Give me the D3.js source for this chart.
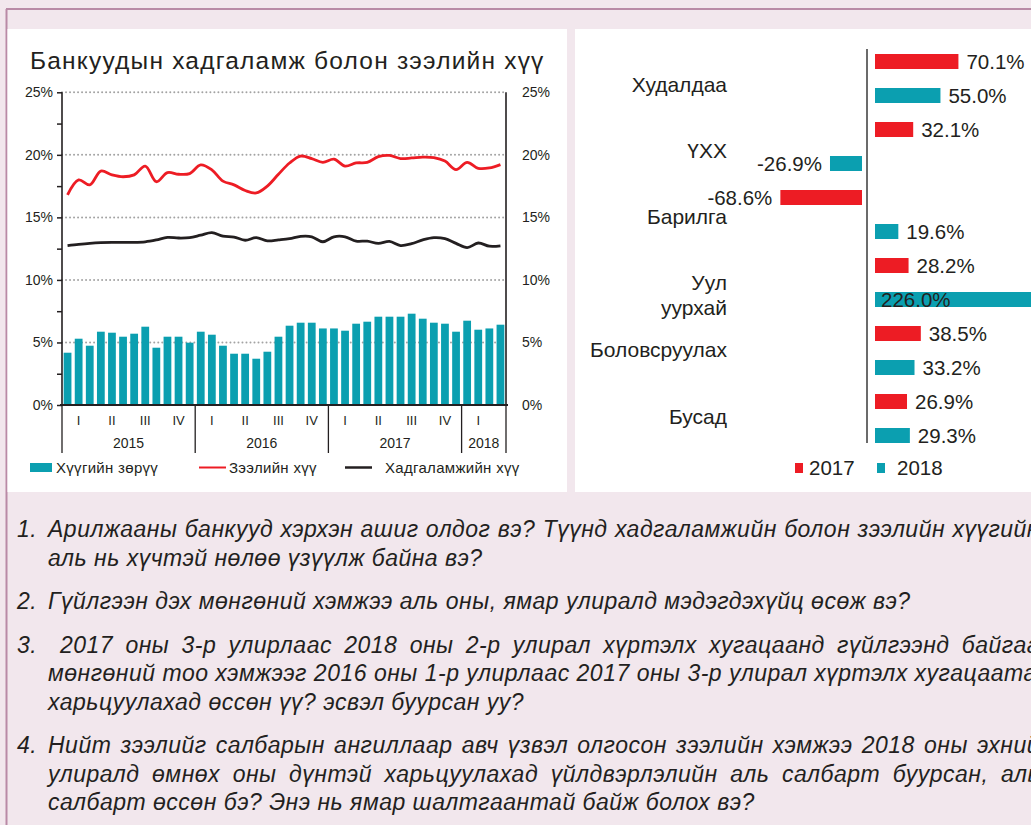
<!DOCTYPE html>
<html>
<head>
<meta charset="utf-8">
<script src="https://cdn.jsdelivr.net/npm/d3@7"></script>
<style>
  body { margin: 0; background: #f2e7ed; }
  svg { display: block; }
  text { font-family: "Liberation Sans", Arial, sans-serif; fill: #231f20; }
</style>
</head>
<body>
<svg id="chart" width="1031" height="825"></svg>
<script>
// ---- Monthly series, Jan 2015 – Apr 2018 ----
const months = [
  "2015-01","2015-02","2015-03","2015-04","2015-05","2015-06","2015-07","2015-08","2015-09","2015-10","2015-11","2015-12",
  "2016-01","2016-02","2016-03","2016-04","2016-05","2016-06","2016-07","2016-08","2016-09","2016-10","2016-11","2016-12",
  "2017-01","2017-02","2017-03","2017-04","2017-05","2017-06","2017-07","2017-08","2017-09","2017-10","2017-11","2017-12",
  "2018-01","2018-02","2018-03","2018-04"
];
// Хүүгийн зөрүү (interest spread), %
const spread = [
  4.18, 5.30, 4.74, 5.86, 5.78, 5.46, 5.70, 6.26, 4.58, 5.46, 5.46, 4.98,
  5.86, 5.62, 4.74, 4.10, 4.10, 3.70, 4.26, 5.46, 6.34, 6.58, 6.58, 6.12,
  6.12, 5.94, 6.50, 6.66, 7.06, 7.06, 7.06, 7.30, 6.90, 6.58, 6.50, 5.86,
  6.74, 6.02, 6.12, 6.42
];
// Зээлийн хүү (lending rate), %
const lendingRate = [
  16.8, 18.0, 17.6, 18.7, 18.4, 18.25, 18.4, 19.1, 17.85, 18.58, 18.45, 18.5,
  19.2, 18.8, 17.9, 17.6, 17.15, 16.95, 17.5, 18.45, 19.35, 19.9, 19.7, 19.4,
  19.65, 19.1, 19.35, 19.4, 19.85, 19.95, 19.7, 19.75, 19.82, 19.78, 19.5, 18.82,
  19.4, 18.92, 18.95, 19.22
];
// Хадгаламжийн хүү (deposit rate), %
const depositRate = [
  12.75, 12.85, 12.93, 12.98, 13.0, 13.0, 13.0, 13.05, 13.2, 13.4, 13.35, 13.38,
  13.58, 13.78, 13.5, 13.43, 13.17, 13.38, 13.12, 13.2, 13.3, 13.48, 13.45, 13.05,
  13.45, 13.45, 13.1, 13.1, 12.92, 13.08, 12.75, 12.9, 13.2, 13.38, 13.3, 12.92,
  12.58, 12.95, 12.7, 12.73
];
const quarterLabels = ["I", "II", "III", "IV"];
const years = ["2015", "2016", "2017", "2018"];
const yTicks = [0, 5, 10, 15, 20, 25];

// ---- Loan growth by sector, % ----
const sectors = ["Худалдаа", "ҮХХ", "Барилга", "Уул\nуурхай", "Боловсруулах", "Бусад"];
const growth2017 = [70.1, 32.1, -68.6, 28.2, 38.5, 26.9];
const growth2018 = [55.0, -26.9, 19.6, 226.0, 33.2, 29.3];
const growthYears = ["2017", "2018"];

const questions = [
  { num: "1.", lines: [
    "Арилжааны банкууд хэрхэн ашиг олдог вэ? Түүнд хадгаламжийн болон зээлийн хүүгийн",
    "аль нь хүчтэй нөлөө үзүүлж байна вэ?"] },
  { num: "2.", lines: [
    "Гүйлгээн дэх мөнгөний хэмжээ аль оны, ямар улиралд мэдэгдэхүйц өсөж вэ?"] },
  { num: "3.", lines: [
    " 2017 оны 3-р улирлаас 2018 оны 2-р улирал хүртэлх хугацаанд гүйлгээнд байгаа",
    "мөнгөний тоо хэмжээг 2016 оны 1-р улирлаас 2017 оны 3-р улирал хүртэлх хугацаатай",
    "харьцуулахад өссөн үү? эсвэл буурсан уу?"] },
  { num: "4.", lines: [
    "Нийт зээлийг салбарын ангиллаар авч үзвэл олгосон зээлийн хэмжээ  2018 оны эхний",
    "улиралд өмнөх оны дүнтэй харьцуулахад үйлдвэрлэлийн аль салбарт буурсан, аль",
    "салбарт өссөн бэ? Энэ нь ямар шалтгаантай байж болох вэ?"] }
];

const TEAL = "#0b9fb0", RED = "#ed1c24", INK = "#231f20";
const svg = d3.select("#chart");

// ---- page frame ----
svg.append("rect").attr("width", 1031).attr("height", 825).attr("fill", "#f2e7ed");
svg.append("line").attr("x1", 6).attr("x2", 1031).attr("y1", 9).attr("y2", 9)
  .attr("stroke", "#b98aa6").attr("stroke-width", 2);
svg.append("line").attr("x1", 6.5).attr("x2", 6.5).attr("y1", 9).attr("y2", 825)
  .attr("stroke", "#b98aa6").attr("stroke-width", 2);
svg.append("rect").attr("x", 7.5).attr("y", 29).attr("width", 559.5).attr("height", 463).attr("fill", "#fff");
svg.append("rect").attr("x", 575).attr("y", 29).attr("width", 460).attr("height", 463).attr("fill", "#fff");

// ================= Left chart: rates and spread =================
const L = svg.append("g");
L.append("text").attr("x", 30).attr("y", 69).attr("font-size", 24.5).attr("letter-spacing", 1.2)
  .text("Банкуудын хадгаламж болон зээлийн хүү");

const x = d3.scaleBand().domain(months).range([62, 506]).paddingInner(0.3).paddingOuter(0.15);
const y = d3.scaleLinear().domain([0, 25]).range([405, 92.3]);
const cx = m => x(m) + x.bandwidth() / 2;

// dotted gridlines
L.append("g").selectAll("line").data(yTicks.filter(t => t > 0)).join("line")
  .attr("x1", 62).attr("x2", 506).attr("y1", d => y(d)).attr("y2", d => y(d))
  .attr("stroke", "#a3a3a3").attr("stroke-width", 2)
  .attr("stroke-dasharray", "0.01 4").attr("stroke-linecap", "round");

// spread bars
L.append("g").selectAll("rect").data(months).join("rect")
  .attr("x", d => x(d)).attr("width", x.bandwidth())
  .attr("y", (d, i) => y(spread[i])).attr("height", (d, i) => y(0) - y(spread[i]))
  .attr("fill", TEAL);

// left axis with minor ticks every 2.5%
const yAxisL = d3.axisLeft(y).tickValues(d3.range(0, 25.01, 2.5)).tickSize(5)
  .tickFormat(d => d % 5 === 0 ? d + "%" : "");
const gL = L.append("g").attr("transform", "translate(62,0)").call(yAxisL);
gL.select(".domain").remove();
gL.selectAll(".tick line").attr("stroke", INK).attr("stroke-width", 1.5);
gL.selectAll(".tick text").attr("x", -9).attr("font-size", 14).attr("fill", INK)
  .attr("font-family", "'Liberation Sans', Arial, sans-serif");

const yAxisR = d3.axisRight(y).tickValues(yTicks).tickSize(0).tickFormat(d => d + "%");
const gR = L.append("g").attr("transform", "translate(506,0)").call(yAxisR);
gR.select(".domain").remove();
gR.selectAll(".tick text").attr("x", 16).attr("font-size", 14).attr("fill", INK)
  .attr("font-family", "'Liberation Sans', Arial, sans-serif");

// axis lines
L.append("line").attr("x1", 62).attr("x2", 62).attr("y1", y(25)).attr("y2", y(0))
  .attr("stroke", INK).attr("stroke-width", 1.6);
L.append("line").attr("x1", 506).attr("x2", 506).attr("y1", y(25)).attr("y2", y(0))
  .attr("stroke", INK).attr("stroke-width", 1.6);
L.append("line").attr("x1", 60).attr("x2", 508).attr("y1", y(0)).attr("y2", y(0))
  .attr("stroke", INK).attr("stroke-width", 2);

// rate lines
const line = d3.line().x(d => cx(d.m)).y(d => y(d.v)).curve(d3.curveCatmullRom.alpha(0.5));
L.append("path").datum(months.map((m, i) => ({ m, v: depositRate[i] })))
  .attr("d", line).attr("fill", "none").attr("stroke", INK).attr("stroke-width", 2.8)
  .attr("stroke-linejoin", "round");
L.append("path").datum(months.map((m, i) => ({ m, v: lendingRate[i] })))
  .attr("d", line).attr("fill", "none").attr("stroke", RED).attr("stroke-width", 2.8)
  .attr("stroke-linejoin", "round");

// grouped time axis: quarters (complete ones only) and years
const yearOf = m => m.slice(0, 4);
const quarterOf = m => Math.floor((+m.slice(5, 7) - 1) / 3);
const step = x.step();
const left = m => x(m) - x.paddingInner() * step / 2;
const quarters = d3.groups(months, m => yearOf(m) + "-" + quarterOf(m)).filter(d => d[1].length === 3);
L.append("g").selectAll("text").data(quarters).join("text")
  .attr("x", d => left(d[1][0]) + step * 1.5)
  .attr("y", 425).attr("text-anchor", "middle").attr("font-size", 13)
  .text(d => quarterLabels[quarterOf(d[1][0])]);
const yearGroups = years.map(yr => months.filter(m => yearOf(m) === yr));
L.append("g").selectAll("text").data(yearGroups).join("text")
  .attr("x", d => (left(d[0]) + left(d[d.length - 1]) + step) / 2)
  .attr("y", 448).attr("text-anchor", "middle").attr("font-size", 14)
  .text((d, i) => years[i]);
const bounds = yearGroups.map(g => left(g[0])).concat([506]);
L.append("g").selectAll("line").data(bounds).join("line")
  .attr("x1", d => d).attr("x2", d => d).attr("y1", y(0)).attr("y2", 453)
  .attr("stroke", INK).attr("stroke-width", 1.3);

// legend
const lg = L.append("g").attr("font-size", 15).attr("letter-spacing", 0.3);
lg.append("rect").attr("x", 30).attr("y", 463).attr("width", 22).attr("height", 9).attr("fill", TEAL);
lg.append("text").attr("x", 56).attr("y", 473).text("Хүүгийн зөрүү");
lg.append("line").attr("x1", 199).attr("x2", 226).attr("y1", 467.5).attr("y2", 467.5)
  .attr("stroke", RED).attr("stroke-width", 2);
lg.append("text").attr("x", 229).attr("y", 473).text("Зээлийн хүү");
lg.append("line").attr("x1", 345).attr("x2", 372).attr("y1", 467.5).attr("y2", 467.5)
  .attr("stroke", INK).attr("stroke-width", 2.5);
lg.append("text").attr("x", 385).attr("y", 473).text("Хадгаламжийн хүү");

// ================= Right chart: loan growth by sector =================
const R = svg.append("g");
const rows = [];
sectors.forEach((s, i) => {
  rows.push({ sector: s, year: growthYears[0], v: growth2017[i], k: i * 2 });
  rows.push({ sector: s, year: growthYears[1], v: growth2018[i], k: i * 2 + 1 });
});
const yr = d3.scaleBand().domain(d3.range(rows.length)).range([44.5, 452.5])
  .paddingInner(19 / 34).paddingOuter(19 / 68);
const len = d3.scaleLinear().domain([0, 100]).range([0, 119]);
const zeroX = 867;
const colorOf = yv => yv === growthYears[0] ? RED : TEAL;
const barX = d => d.v >= 0 ? zeroX + 8 : zeroX - 5 - len(-d.v);
const barEnd = d => d.v >= 0 ? zeroX + 8 + len(d.v) : zeroX - 5 - len(-d.v);
const fmt = v => (v < 0 ? "-" : "") + Math.abs(v).toFixed(1) + "%";

R.append("g").selectAll("rect").data(rows).join("rect")
  .attr("x", barX).attr("y", d => yr(d.k)).attr("width", d => len(Math.abs(d.v)))
  .attr("height", yr.bandwidth()).attr("fill", d => colorOf(d.year));

R.append("line").attr("x1", zeroX).attr("x2", zeroX).attr("y1", 49).attr("y2", 443)
  .attr("stroke", "#3a3a3a").attr("stroke-width", 1.5);

R.append("g").selectAll("text").data(rows).join("text")
  .attr("x", d => {
    if (d.v < 0) return barEnd(d) - 8;
    return barEnd(d) > 960 ? barX(d) + 6 : barEnd(d) + 8;
  })
  .attr("y", d => yr(d.k) + yr.bandwidth() / 2)
  .attr("dy", "0.36em").attr("font-size", 20.5)
  .attr("text-anchor", d => d.v < 0 ? "end" : "start")
  .text(d => fmt(d.v));

// sector labels
const labelY = d3.scalePoint().domain(sectors).range([84, 416]);
const catG = R.append("g");
sectors.forEach(s => {
  const parts = s.split("\n");
  const mid = labelY(s) + (parts.length - 1) * 12;
  parts.forEach((p, j) => {
    catG.append("text").attr("x", 727).attr("text-anchor", "end").attr("font-size", 21)
      .attr("y", mid + (j - (parts.length - 1) / 2) * 25).attr("dy", "0.36em").text(p);
  });
});

// legend
R.append("rect").attr("x", 795).attr("y", 463).attr("width", 8).attr("height", 10).attr("fill", RED);
R.append("text").attr("x", 809).attr("y", 475).attr("font-size", 20.5).text(growthYears[0]);
R.append("rect").attr("x", 877).attr("y", 463).attr("width", 8).attr("height", 10).attr("fill", TEAL);
R.append("text").attr("x", 897).attr("y", 475).attr("font-size", 20.5).text(growthYears[1]);

// ================= Questions =================
const Q = svg.append("g").attr("font-style", "italic").attr("font-size", 23).attr("letter-spacing", 0.5);
const rightEdge = 1040, lineH = 28.5, paraGap = 15;
const probe = Q.append("text").attr("x", -999).attr("y", -999);
const measure = s => { probe.text(s); return probe.node().getComputedTextLength(); };
const spaceW = measure("a a") - measure("aa");
let by = 537;
questions.forEach(q => {
  Q.append("text").attr("x", 17).attr("y", by).text(q.num);
  q.lines.forEach((ln, li) => {
    const lead = ln.startsWith(" ") ? 12 : 0;
    const x0 = 48 + lead;
    const words = ln.trim().split(/\s+/);
    const justify = li < q.lines.length - 1;
    if (!justify) {
      Q.append("text").attr("x", x0).attr("y", by).text(words.join(" "));
    } else {
      const ws = words.map(measure);
      const gap = Math.max(spaceW, (rightEdge - x0 - d3.sum(ws)) / (words.length - 1));
      let px = x0;
      words.forEach((w, wi) => {
        Q.append("text").attr("x", px).attr("y", by).text(w);
        px += ws[wi] + gap;
      });
    }
    by += lineH;
  });
  by += paraGap;
});
probe.remove();
</script>
</body>
</html>
